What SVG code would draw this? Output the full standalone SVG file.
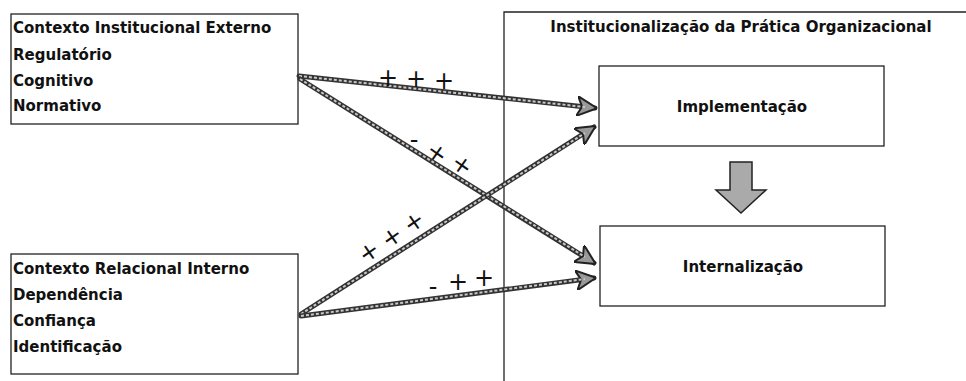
<svg xmlns="http://www.w3.org/2000/svg" width="966" height="381" viewBox="0 0 966 381">
<defs>
<style>
.box{fill:#fff;stroke:#222;stroke-width:1.3}
.t{font-family:"DejaVu Sans",sans-serif;font-weight:bold;font-size:15px;fill:#111}
.c{text-anchor:middle}
.out{fill:none;stroke:#333;stroke-width:5;stroke-linecap:round}
.in{fill:none;stroke:#c8c8c8;stroke-width:2;stroke-dasharray:3 2}
.sign{font-family:"DejaVu Sans",sans-serif;font-size:24px;fill:#111;text-anchor:middle}
</style>
<marker id="ah" viewBox="0 0 10 10" refX="9" refY="5" markerWidth="4" markerHeight="4" orient="auto" markerUnits="strokeWidth">
<path d="M0,0 L10,5 L0,10 L2.5,5 Z" fill="#999" stroke="#222" stroke-width="1"/>
</marker>
</defs>
<rect width="966" height="381" fill="#fff"/>

<g id="institucionalizacao">
<path d="M504,381 L504,12 L966,12" fill="none" stroke="#222" stroke-width="1.3"/>
<text class="t c" x="741" y="32">Institucionalização da Prática Organizacional</text>
</g>

<g id="externo">
<rect class="box" x="11" y="14" width="287" height="110"/>
<text class="t" x="13" y="33">Contexto Institucional Externo</text>
<text class="t" x="13" y="60">Regulatório</text>
<text class="t" x="13" y="86">Cognitivo</text>
<text class="t" x="13" y="111">Normativo</text>
</g>

<g id="interno">
<rect class="box" x="11" y="254" width="287" height="120"/>
<text class="t" x="13" y="274">Contexto Relacional Interno</text>
<text class="t" x="13" y="300">Dependência</text>
<text class="t" x="13" y="326">Confiança</text>
<text class="t" x="13" y="352">Identificação</text>
</g>

<g id="implementacao">
<rect class="box" x="599" y="66" width="285" height="80"/>
<text class="t c" x="742" y="112">Implementação</text>
</g>

<g id="internalizacao">
<rect class="box" x="600" y="226" width="285" height="80"/>
<text class="t c" x="743" y="272">Internalização</text>
</g>

<g id="seta-vertical">
<path d="M730,162 L752,162 L752,190 L766,190 L741,213 L716,190 L730,190 Z" fill="#aaa" stroke="#222" stroke-width="1.5"/>
</g>

<g id="conectores">
<path class="out" d="M299,76 L595,108" marker-end="url(#ah)"/>
<path class="in" d="M299,76 L585,107"/>
<path class="out" d="M300,79 L594,263" marker-end="url(#ah)"/>
<path class="in" d="M300,79 L585,257"/>
<path class="out" d="M301,314 L594,127" marker-end="url(#ah)"/>
<path class="in" d="M301,314 L585,133"/>
<path class="out" d="M301,316 L594,278" marker-end="url(#ah)"/>
<path class="in" d="M301,316 L585,279"/>
</g>

<g id="sinais">
<text class="sign" x="388" y="86">+</text>
<text class="sign" x="416" y="87">+</text>
<text class="sign" x="444" y="89">+</text>
<text class="sign" x="414" y="148">-</text>
<text class="sign" x="437" y="161" transform="rotate(35 437 153)">+</text>
<text class="sign" x="462" y="173" transform="rotate(35 462 165)">+</text>
<text class="sign" x="369" y="260" transform="rotate(-35 369 252)">+</text>
<text class="sign" x="392" y="245" transform="rotate(-35 392 237)">+</text>
<text class="sign" x="414" y="230" transform="rotate(-35 414 222)">+</text>
<text class="sign" x="433" y="295">-</text>
<text class="sign" x="458" y="290">+</text>
<text class="sign" x="484" y="286">+</text>
</g>
</svg>
